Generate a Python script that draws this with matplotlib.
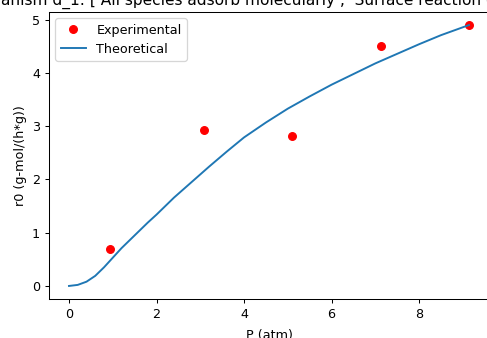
import matplotlib
matplotlib.use("Agg")
import matplotlib.pyplot as plt

# Experimental data
P_exp = [0.94, 3.09, 5.10, 7.13, 9.14]
r_exp = [0.70, 2.93, 2.82, 4.51, 4.90]

# Theoretical curve
P_theo = [0.0, 0.2, 0.4, 0.6, 0.8, 1.0, 1.2, 1.4, 1.6, 1.8, 2.0, 2.4, 2.8,
          3.2, 3.6, 4.0, 4.5, 5.0, 5.5, 6.0, 6.5, 7.0, 7.5, 8.0, 8.5, 9.14]
r_theo = [0.0, 0.02, 0.08, 0.19, 0.35, 0.53, 0.71, 0.87, 1.03, 1.19, 1.34,
          1.66, 1.95, 2.24, 2.52, 2.79, 3.07, 3.33, 3.56, 3.78, 3.98, 4.18,
          4.36, 4.54, 4.71, 4.90]

title = "Mechanism d_1: [ All species adsorb molecularly ,  Surface reaction controlling ]"

DPI = 92
fig = plt.figure(figsize=(487 / DPI, 338 / DPI), dpi=DPI)
ax = fig.add_axes([49 / 487, 39 / 338, 440 / 487, 287 / 338])
ax.plot(P_exp, r_exp, 'o', color='red', label='Experimental')
ax.plot(P_theo, r_theo, '-', color='#1f77b4', label='Theoretical')
ax.set_xlabel('P (atm)', labelpad=6.5)
ax.set_ylabel('r0 (g-mol/(h*g))')
ax.set_title(title)
ax.legend(loc='upper left')
fig.savefig('out.png', dpi=DPI)
